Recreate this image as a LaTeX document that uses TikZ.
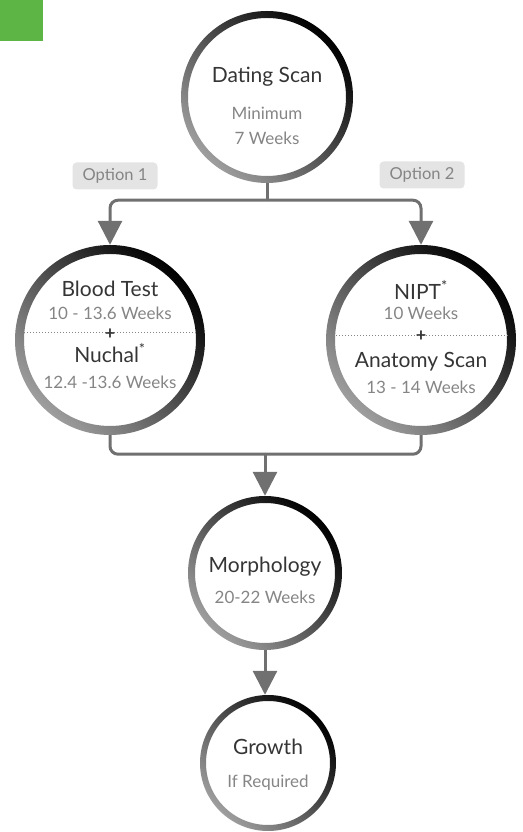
\documentclass[tikz,border=0pt]{standalone}
\usepackage{fontspec}
\setmainfont{Lato}
\usetikzlibrary{positioning,arrows.meta}

\definecolor{leafgreen}{HTML}{5DB546}
\definecolor{titlegray}{HTML}{353535}
\definecolor{subgray}{HTML}{858585}
\definecolor{linkgray}{HTML}{707070}
\definecolor{tabgray}{HTML}{E4E4E4}

\tikzset{
  stage/.style 2 args={circle, inner sep=0pt, minimum size=2*#1,
    path picture={\shade[even odd rule, top color=black, bottom color=black!38, shading angle=-45]
      (path picture bounding box.center) circle[radius=#1] circle[radius=#1-#2];}},
  title/.style={text=titlegray, font=\fontsize{21}{24}\selectfont, inner sep=0pt},
  sub/.style={text=subgray, font=\fontsize{17}{20}\selectfont, inner sep=0pt},
  tab/.style={fill=tabgray, rounded corners=4pt, text=subgray, minimum width=85pt, minimum height=27pt,
    inner sep=0pt, font=\fontsize{16.5}{19}\selectfont},
  link/.style={draw=linkgray, line width=3pt},
  arrowed/.style={-{Triangle[width=24pt,length=24pt]}},
  sepline/.style={draw=subgray, line width=1pt, dotted},
  plus/.style={text=titlegray, font=\bfseries\fontsize{18}{18}\selectfont, inner sep=0pt},
}

\begin{document}
\begin{tikzpicture}[x=1pt, y=1pt]
  \useasboundingbox (0,0) rectangle (522,832);

  % corner mark
  \fill[leafgreen] (0,791) rectangle (43,832);

  % stages
  \node[stage={86pt}{7pt}] (dating) at (267,735) {};
  \node[stage={95pt}{9pt}] (blood) at (110,492) {};
  \node[stage={95pt}{9pt}] (nipt) at (421,492) {};
  \node[stage={77pt}{7pt}] (morph) at (265,259) {};
  \node[stage={68pt}{6pt}] (growth) at (268,69) {};

  % texts
  \node[title] (datingT) at ([yshift=20pt]dating.center) {Dating Scan};
  \node[sub] (datingM) at ([yshift=-16pt]dating.center) {Minimum};
  \node[sub] (datingW) at ([yshift=-41pt]dating.center) {7 Weeks};

  \node[title] (bloodT) at ([yshift=51pt]blood.center) {Blood Test};
  \node[sub] (bloodW) at ([yshift=27pt]blood.center) {10 - 13.6 Weeks};
  \draw[sepline] ([xshift=-86pt,yshift=7pt]blood.center) -- ([xshift=86pt,yshift=7pt]blood.center);
  \node[plus] (bloodP) at ([yshift=6pt]blood.center) {+};
  \node[title] (nuchalT) at ([yshift=-13pt]blood.center) {Nuchal\textsuperscript{*}};
  \node[sub] (nuchalW) at ([yshift=-42pt]blood.center) {12.4 -13.6 Weeks};

  \node[title] (niptT) at ([yshift=50pt]nipt.center) {NIPT\textsuperscript{*}};
  \node[sub] (niptW) at ([yshift=27pt]nipt.center) {10 Weeks};
  \draw[sepline] ([xshift=-88pt,yshift=4pt]nipt.center) -- ([xshift=88pt,yshift=4pt]nipt.center);
  \node[plus] (niptP) at ([yshift=4pt]nipt.center) {+};
  \node[title] (anatT) at ([yshift=-22pt]nipt.center) {Anatomy Scan};
  \node[sub] (anatW) at ([yshift=-47pt]nipt.center) {13 - 14 Weeks};

  \node[title] (morphT) at ([yshift=6pt]morph.center) {Morphology};
  \node[sub] (morphW) at ([yshift=-24pt]morph.center) {20-22 Weeks};

  \node[title] (growthT) at ([yshift=16pt]growth.center) {Growth};
  \node[sub] (growthR) at ([yshift=-20pt]growth.center) {If Required};

  % options
  \node[tab] (opt1) at (115,656) {Option 1};
  \node[tab] (opt2) at (422,657) {Option 2};

  % connectors
  \coordinate (split) at ([yshift=-17pt]dating.south);
  \draw[link] (dating.south) -- (split);
  \draw[link, arrowed, rounded corners=8pt] (split) -| (blood.north);
  \draw[link, arrowed, rounded corners=8pt] (split) -| (nipt.north);

  \coordinate (merge) at ([yshift=-19pt]blood.south -| morph.north);
  \draw[link, rounded corners=8pt] (blood.south) |- (merge);
  \draw[link, rounded corners=8pt] (nipt.south) |- (merge);
  \draw[link, arrowed] (merge) -- (morph.north);

  \draw[link, arrowed] (morph.south) -- (morph.south |- growth.north);
\end{tikzpicture}
\end{document}
